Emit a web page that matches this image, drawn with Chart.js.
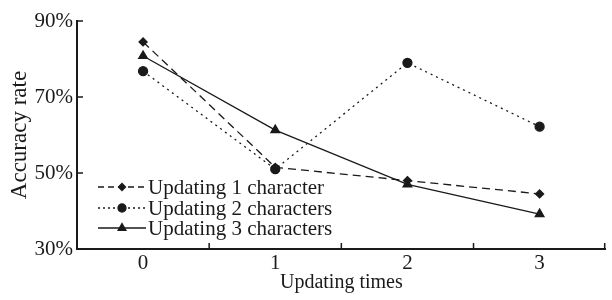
<!DOCTYPE html>
<html>
<head>
<meta charset="utf-8">
<script src="https://cdn.jsdelivr.net/npm/chart.js@4.4.1/dist/chart.umd.min.js"></script>
<style>
  body { margin: 0; background: #fff; }
  #wrap { width: 612px; height: 300px; }
</style>
</head>
<body>
<div id="wrap"><canvas id="chart" width="612" height="300"></canvas></div>
<script>
// data
const updatingTimes = ['0', '1', '2', '3'];
const oneChar = [84.5, 51.5, 48, 44.5];
const twoChars = [76.8, 51, 79, 62.2];
const threeChars = [80.8, 61.3, 47, 39.2];
const seriesNames = ['Updating 1 character', 'Updating 2 characters', 'Updating 3 characters'];
const yTicks = [30, 50, 70, 90];

const ink = '#1a1a1a';
const family = '"Liberation Serif", "Times New Roman", serif';
const font = { family: family, size: 21 };

// short tick marks pointing into the plot
const innerTicks = {
  id: 'innerTicks',
  afterDraw(chart) {
    const c = chart.ctx;
    const x = chart.scales.x, y = chart.scales.y;
    c.save();
    c.strokeStyle = ink;
    c.lineWidth = 1.5;
    c.beginPath();
    yTicks.forEach(v => {
      const py = y.getPixelForValue(v);
      c.moveTo(x.left, py);
      c.lineTo(x.left + 6, py);
    });
    // boundaries between categories
    for (let i = 1; i <= updatingTimes.length; i++) {
      const px = (x.getPixelForValue(i - 1) + x.getPixelForValue(i)) / 2;
      const bx = i === updatingTimes.length ? x.right - 1 : px;
      c.moveTo(bx, y.bottom);
      c.lineTo(bx, y.bottom - 6);
    }
    c.stroke();
    c.restore();
  }
};

// legend with line sample + marker, drawn inside plot
const lineLegend = {
  id: 'lineLegend',
  afterDraw(chart) {
    const c = chart.ctx;
    const x0 = 98, x1 = 146, rowY = [187, 208, 228];
    c.save();
    chart.data.datasets.forEach((ds, i) => {
      const yy = rowY[i];
      c.strokeStyle = ink;
      c.lineWidth = 1.3;
      c.setLineDash(ds.legendDash || []);
      c.beginPath();
      c.moveTo(x0, yy);
      c.lineTo(x1, yy);
      c.stroke();
      c.setLineDash([]);
      c.fillStyle = ink;
      Chart.helpers.drawPoint(c, {
        pointStyle: ds.pointStyle, radius: ds.pointRadius - 0.5, borderWidth: 1
      }, (x0 + x1) / 2, yy);
      c.font = font.size + 'px ' + family;
      c.textBaseline = 'middle';
      c.fillText(seriesNames[i], x1 + 2, yy + 1);
    });
    c.restore();
  }
};

new Chart(document.getElementById('chart'), {
  type: 'line',
  data: {
    labels: updatingTimes,
    datasets: [
      { label: seriesNames[0], data: oneChar, borderDash: [8, 5], legendDash: [6, 4], pointStyle: 'rectRot', pointRadius: 4 },
      { label: seriesNames[1], data: twoChars, borderDash: [2, 4], legendDash: [2, 3], pointStyle: 'circle', pointRadius: 4.5 },
      { label: seriesNames[2], data: threeChars, borderDash: [], pointStyle: 'triangle', pointRadius: 5 }
    ].map(d => Object.assign(d, {
      borderColor: ink, backgroundColor: ink, pointBackgroundColor: ink,
      pointBorderColor: ink, borderWidth: 1.3, tension: 0, fill: false
    }))
  },
  options: {
    responsive: false,
    animation: false,
    layout: { padding: { top: 21, right: 1, left: 0, bottom: 0 } },
    plugins: { legend: { display: false }, tooltip: { enabled: false } },
    scales: {
      x: {
        offset: true,
        grid: { display: false, drawTicks: false },
        border: { display: true, color: ink, width: 2 },
        ticks: { color: ink, font: font, padding: 2, maxRotation: 0 },
        title: { display: true, text: 'Updating times', color: ink, font: { family: family, size: 20 }, padding: { top: 0, bottom: 5 } },
        afterFit(s) { s.height = 51; }
      },
      y: {
        min: 30, max: 90,
        grid: { display: false, drawTicks: false },
        border: { display: true, color: ink, width: 2 },
        afterBuildTicks(s) { s.ticks = yTicks.map(v => ({ value: v })); },
        ticks: { color: ink, font: font, padding: 4, callback: v => v + '%' },
        title: { display: true, text: 'Accuracy rate', color: ink, font: { family: family, size: 23 }, padding: { top: 6, bottom: 0 } },
        afterFit(s) { s.width = 77; }
      }
    }
  },
  plugins: [innerTicks, lineLegend]
});
</script>
</body>
</html>
